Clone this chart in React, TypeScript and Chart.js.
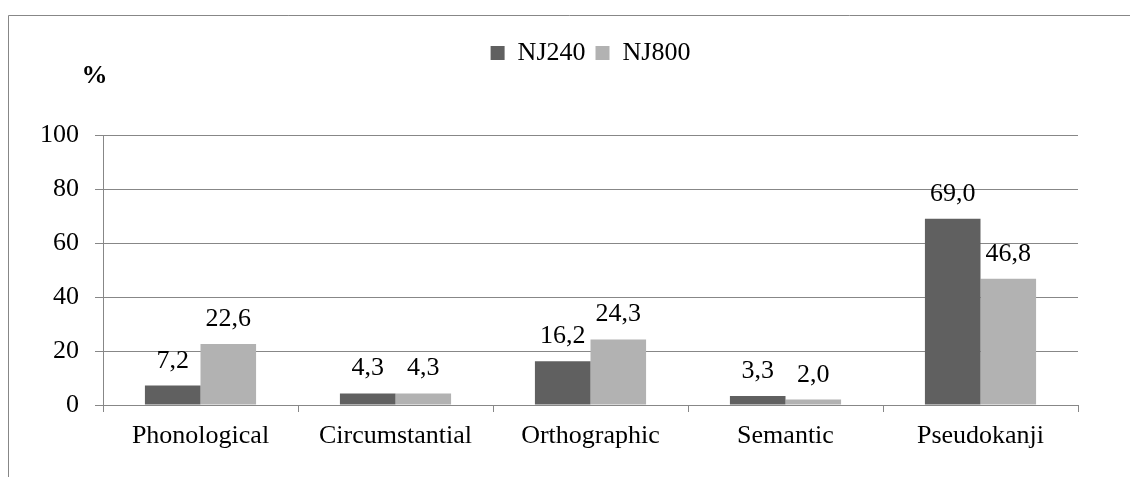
import React, { useEffect, useRef } from "react";
import { Chart, registerables } from "chart.js";

Chart.register(...registerables);

const categories = ["Phonological", "Circumstantial", "Orthographic", "Semantic", "Pseudokanji"];
const seriesNames = ["NJ240", "NJ800"];
const nj240 = [7.2, 4.3, 16.2, 3.3, 69.0];
const nj800 = [22.6, 4.3, 24.3, 2.0, 46.8];
const seriesColors = ["#606060", "#b2b2b2"];
const yMin = 0;
const yMax = 100;
const yStep = 20;
const unitLabel = "%";

const FONT = "'Liberation Serif', 'Times New Roman', serif";
const GRID = "#878787";

const fmt = (v: number) => v.toFixed(1).replace(".", ",");

const framePlugin = {
  id: "frame",
  beforeDraw(chart: any) {
    const ctx = chart.ctx;
    ctx.save();
    ctx.fillStyle = "#ffffff";
    ctx.fillRect(0, 0, chart.width, chart.height);
    ctx.strokeStyle = GRID;
    ctx.lineWidth = 1;
    ctx.beginPath();
    ctx.moveTo(8.5, chart.height);
    ctx.lineTo(8.5, 15.5);
    ctx.lineTo(chart.width, 15.5);
    ctx.stroke();
    ctx.restore();
  },
  afterDraw(chart: any) {
    const ctx = chart.ctx;
    ctx.save();
    ctx.fillStyle = "#000";
    ctx.font = `bold 26px ${FONT}`;
    ctx.textAlign = "center";
    ctx.textBaseline = "alphabetic";
    ctx.fillText(unitLabel, 94.5, 83);
    ctx.restore();
  },
};

const legendSpacePlugin = {
  id: "legendSpace",
  beforeInit(chart: any) {
    const legend = chart.legend;
    if (!legend) return;
    const orig = legend.fit;
    legend.fit = function () {
      orig.bind(legend)();
      this.height = 105;
    };
  },
};

const valueLabelPlugin = {
  id: "valueLabels",
  afterDatasetsDraw(chart: any) {
    const ctx = chart.ctx;
    ctx.save();
    ctx.fillStyle = "#000";
    ctx.font = `26px ${FONT}`;
    ctx.textAlign = "center";
    ctx.textBaseline = "alphabetic";
    chart.data.datasets.forEach((ds: any, di: number) => {
      const meta = chart.getDatasetMeta(di);
      meta.data.forEach((el: any, i: number) => {
        ctx.fillText(fmt(ds.data[i]), el.x, el.y - 18);
      });
    });
    ctx.restore();
  },
};

export default function App() {
  const ref = useRef<HTMLCanvasElement | null>(null);

  useEffect(() => {
    if (!ref.current) return;
    const chart = new Chart(ref.current, {
      type: "bar",
      data: {
        labels: categories,
        datasets: [
          { label: seriesNames[0], data: nj240, backgroundColor: seriesColors[0], borderWidth: 0 },
          { label: seriesNames[1], data: nj800, backgroundColor: seriesColors[1], borderWidth: 0 },
        ],
      },
      options: {
        responsive: false,
        animation: false,
        devicePixelRatio: 1,
        layout: { padding: { left: 0, right: 52, top: 30, bottom: 0 } },
        datasets: { bar: { categoryPercentage: 0.57, barPercentage: 1 } },
        plugins: {
          legend: {
            display: true,
            position: "top",
            align: "center",
            fullSize: false,
            labels: {
              boxWidth: 14,
              boxHeight: 14,
              padding: 10,
              color: "#000",
              font: { family: FONT, size: 26 },
            },
          },
          title: { display: false },
          tooltip: { enabled: false },
        },
        scales: {
          x: {
            offset: true,
            grid: {
              display: true,
              offset: true,
              drawOnChartArea: false,
              drawTicks: true,
              tickLength: 7,
              color: GRID,
              lineWidth: 1,
            },
            border: { display: true, color: GRID, width: 1 },
            ticks: { color: "#000", padding: 9, font: { family: FONT, size: 26 }, maxRotation: 0 },
            afterFit(scale: any) {
              scale.height = 72;
            },
          },
          y: {
            min: yMin,
            max: yMax,
            ticks: { stepSize: yStep, color: "#000", padding: 16, font: { family: FONT, size: 26 } },
            grid: { color: GRID, lineWidth: 1, tickLength: 8, drawTicks: true },
            border: { display: true, color: GRID, width: 1 },
            afterFit(scale: any) {
              scale.width = 103;
            },
          },
        },
      },
      plugins: [framePlugin, legendSpacePlugin, valueLabelPlugin],
    });
    return () => chart.destroy();
  }, []);

  return (
    <div style={{ position: "absolute", left: 0, top: 0, width: 1130, height: 477 }}>
      <canvas ref={ref} width={1130} height={477} style={{ display: "block" }} />
    </div>
  );
}
